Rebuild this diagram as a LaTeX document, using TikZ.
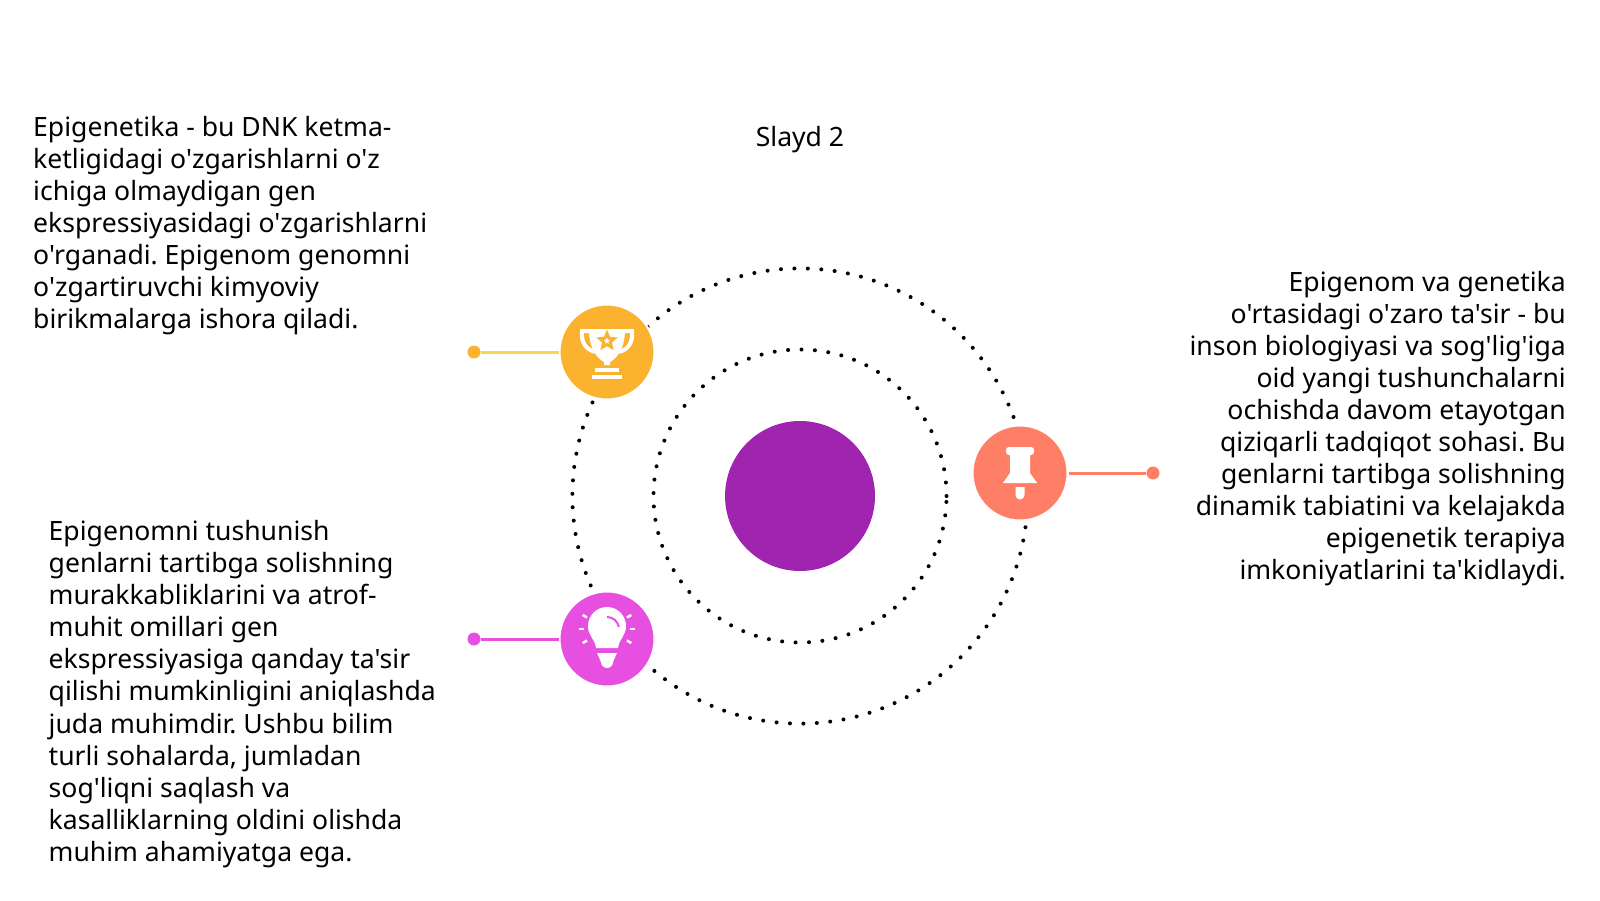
\documentclass[tikz,border=0pt]{standalone}
\usepackage{fontspec}
\setmainfont{Noto Sans}[Ligatures=TeXOff]
\frenchspacing
\usetikzlibrary{shapes.geometric}
\definecolor{trophycolor}{HTML}{FBB32F}
\definecolor{trophyline}{HTML}{F6D84A}
\definecolor{bulbcolor}{HTML}{E64FDF}
\definecolor{pincolor}{HTML}{FF7F66}
\definecolor{planetcolor}{HTML}{A024B0}
\tikzset{
  ring/.style={black, line width=0.04cm, line cap=round, dash pattern=on 0pt off 0.1345cm},
  iconcircle/.style={circle, minimum size=0.95cm, inner sep=0pt, draw=white, line width=0.02cm},
  enddot/.style={circle, minimum size=0.13cm, inner sep=0pt},
  bodytext/.style={font=\fontsize{7.56pt}{9.13pt}\selectfont, text=black, inner sep=0pt},
  iconwhite/.style={fill=white, draw=none},
}
\begin{document}
\begin{tikzpicture}
\useasboundingbox (0,0) rectangle (16,9);

% rings and centre
\node (planet) [circle, minimum size=1.5cm, inner sep=0pt, fill=planetcolor] at (8,4.04) {};
\draw[ring] (planet.center) circle[radius=1.465];
\draw[ring] (planet.center) circle[radius=2.276];

% icon circles and their lines
\node (trophy) [iconcircle, fill=trophycolor] at (6.07,5.48) {};
\node (bulb) [iconcircle, fill=bulbcolor] at (6.07,2.61) {};
\node (pin) [iconcircle, fill=pincolor] at (10.2,4.27) {};
\node (trophydot) [enddot, fill=trophycolor] at (4.74,5.48) {};
\node (bulbdot) [enddot, fill=bulbcolor] at (4.74,2.61) {};
\node (pindot) [enddot, fill=pincolor] at (11.53,4.27) {};
\draw[trophyline, line width=0.03cm] (trophydot) -- (trophy);
\draw[bulbcolor, line width=0.03cm] (bulbdot) -- (bulb);
\draw[pincolor, line width=0.03cm] (pin) -- (pindot);

% trophy
\begin{scope}[shift={(trophy.center)}]
\draw[white, line width=0.04cm] (-0.17,0.21) -- (-0.25,0.21) .. controls (-0.26,0.1) and (-0.22,0.03) .. (-0.12,0);
\draw[white, line width=0.04cm] (0.17,0.21) -- (0.25,0.21) .. controls (0.26,0.1) and (0.22,0.03) .. (0.12,0);
\fill[iconwhite] (-0.18,0.23) -- (0.18,0.23) .. controls (0.18,0.03) and (0.1,-0.06) .. (0.03,-0.1) -- (0.03,-0.13) -- (-0.03,-0.13) -- (-0.03,-0.1) .. controls (-0.1,-0.06) and (-0.18,0.03) .. (-0.18,0.23) -- cycle;
\node (trophystar) [star, star points=5, star point ratio=2.2, minimum size=0.15cm, inner sep=0pt, fill=white, draw=trophycolor, line width=0.03cm] at (0,0.11) {};
\fill[iconwhite] (-0.12,-0.2) rectangle (0.12,-0.16);
\fill[iconwhite] (-0.15,-0.27) rectangle (0.15,-0.23);
\end{scope}

% bulb
\begin{scope}[shift={(bulb.center)}]
\fill[iconwhite] (-0.11,-0.09) .. controls (-0.12,0) and (-0.19,0.03) .. (-0.19,0.13) arc[start angle=180, end angle=0, radius=0.19] .. controls (0.19,0.03) and (0.12,0) .. (0.11,-0.09) -- cycle;
\fill[iconwhite] (-0.1,-0.14) -- (0.1,-0.14) -- (0.06,-0.23) arc[start angle=0, end angle=-180, radius=0.06] -- cycle;
\draw[bulbcolor, line width=0.02cm] (0,0.22) arc[start angle=90, end angle=10, radius=0.12];
\foreach \a in {30,0,-30} {
  \draw[white, line width=0.025cm] ({0.23*cos(\a)},{0.1+0.23*sin(\a)}) -- ({0.28*cos(\a)},{0.1+0.28*sin(\a)});
  \draw[white, line width=0.025cm] ({-0.23*cos(\a)},{0.1+0.23*sin(\a)}) -- ({-0.28*cos(\a)},{0.1+0.28*sin(\a)});
}
\end{scope}

% pin
\begin{scope}[shift={(pin.center)}]
\fill[iconwhite, rounded corners=0.03cm] (-0.14,0.18) rectangle (0.14,0.26);
\fill[iconwhite] (-0.1,0.18) -- (0.1,0.18) -- (0.1,0.0) -- (0.17,-0.1) -- (-0.17,-0.1) -- (-0.1,0.0) -- cycle;
\fill[iconwhite] (-0.045,-0.14) -- (0.045,-0.14) -- (0.045,-0.22) arc[start angle=0, end angle=-180, radius=0.045] -- cycle;
\end{scope}

% texts
\node (title) [bodytext, anchor=center] at (8,7.6) {Slayd 2};
\node (lefttop) [bodytext, anchor=west, align=left] at (0.325,6.745) {Epigenetika - bu DNK ketma-\\ketligidagi o'zgarishlarni o'z\\ichiga olmaydigan gen\\ekspressiyasidagi o'zgarishlarni\\o'rganadi. Epigenom genomni\\o'zgartiruvchi kimyoviy\\birikmalarga ishora qiladi.};
\node (leftbottom) [bodytext, anchor=west, align=left] at (0.48,2.06) {Epigenomni tushunish\\genlarni tartibga solishning\\murakkabliklarini va atrof-\\muhit omillari gen\\ekspressiyasiga qanday ta'sir\\qilishi mumkinligini aniqlashda\\juda muhimdir. Ushbu bilim\\turli sohalarda, jumladan\\sog'liqni saqlash va\\kasalliklarning oldini olishda\\muhim ahamiyatga ega.};
\node (righttext) [bodytext, anchor=east, align=right] at (15.665,4.715) {Epigenom va genetika\\o'rtasidagi o'zaro ta'sir - bu\\inson biologiyasi va sog'lig'iga\\oid yangi tushunchalarni\\ochishda davom etayotgan\\qiziqarli tadqiqot sohasi. Bu\\genlarni tartibga solishning\\dinamik tabiatini va kelajakda\\epigenetik terapiya\\imkoniyatlarini ta'kidlaydi.};
\end{tikzpicture}
\end{document}
